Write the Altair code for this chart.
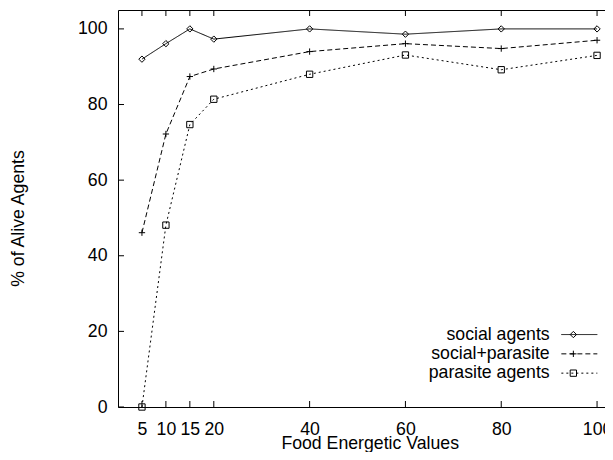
import altair as alt
import pandas as pd

x_vals = [5, 10, 15, 20, 40, 60, 80, 100]
social = [92.0, 96.1, 100.0, 97.3, 100.0, 98.6, 100.0, 100.0]
social_parasite = [46.1, 72.2, 87.4, 89.4, 94.0, 96.1, 94.8, 97.0]
parasite = [0.0, 48.1, 74.7, 81.4, 88.0, 93.1, 89.2, 93.0]
series_names = ["social agents", "social+parasite", "parasite agents"]
marker_names = ["diamond", "plus", "box"]
x_ticks = [5, 10, 15, 20, 40, 60, 80, 100]
y_ticks = [0, 20, 40, 60, 80, 100]

rows = []
for name, mk, vals in zip(series_names, marker_names, [social, social_parasite, parasite]):
    for xv, yv in zip(x_vals, vals):
        rows.append({"x": xv, "y": yv, "series": name, "marker": mk})
df = pd.DataFrame(rows)

W, H = 503, 397
FONT = "Liberation Sans"
FS = 17.7
TL = 6

xs = alt.Scale(domain=[0, 105], nice=False, zero=False)
ys = alt.Scale(domain=[0, 105], nice=False)

xaxis = alt.Axis(values=x_ticks, format="d", labelPadding=13, labelOverlap=False,
                 labelFlush=False, title="Food Energetic Values", titleX=251.7,
                 titleY=41.5, titleBaseline="alphabetic", titleAlign="center")
yaxis = alt.Axis(values=y_ticks, format="d", labelPadding=11, labelOverlap=False,
                 labelFlush=False, title="% of Alive Agents", titleX=-99.5, titleY=208,
                 titleAngle=270, titleBaseline="middle", titleAlign="center")

X = alt.X("x:Q", scale=xs, axis=xaxis)
Y = alt.Y("y:Q", scale=ys, axis=yaxis)

legA = alt.Legend(title=None, orient="none", legendX=452.5, legendY=315.7,
                  symbolType="M-5.69,0L5.69,0", symbolSize=40, symbolStrokeWidth=1,
                  symbolStrokeColor="black", symbolFillColor="transparent",
                  labelAlign="right", labelOffset={"expr": "-38.5"},
                  labelFont=FONT, labelFontSize=FS, labelColor="black", labelLimit=400,
                  rowPadding=0.3, padding=0)
legB = alt.Legend(title=None, orient="none", legendX=446.5, legendY=315.7,
                  symbolSize=40, symbolStrokeWidth=1, symbolStrokeColor="black",
                  symbolFillColor="white", labelOpacity=0, labelFont=FONT, labelFontSize=FS,
                  labelLimit=1, rowPadding=0.3, padding=0)

base = alt.Chart(df)
lines = base.mark_line(color="black", strokeWidth=1).encode(
    x=X, y=Y,
    strokeDash=alt.StrokeDash("series:N",
                              scale=alt.Scale(domain=series_names, range=[[1, 0], [5, 3], [2, 3]]),
                              legend=legA),
)
points = base.mark_point(filled=False, color="black", size=40, strokeWidth=1, opacity=1).encode(
    x=X, y=Y,
    shape=alt.Shape("marker:N",
                    scale=alt.Scale(domain=marker_names,
                                    range=["diamond", "M-1,0L1,0M0,-1L0,1", "square"]),
                    legend=legB),
)

ytk = alt.Chart(pd.DataFrame({"y": y_ticks})).mark_rule(color="black", strokeWidth=1).encode(
    y=Y, x=alt.value(0), x2=alt.value(TL))
xtb = alt.Chart(pd.DataFrame({"x": x_ticks})).mark_rule(color="black", strokeWidth=1).encode(
    x=X, y=alt.value(H), y2=alt.value(H - TL))
xtt = alt.Chart(pd.DataFrame({"x": x_ticks})).mark_rule(color="black", strokeWidth=1).encode(
    x=X, y=alt.value(0), y2=alt.value(TL))

chart = alt.layer(ytk, xtb, xtt, lines, points).properties(
    width=W, height=H,
    autosize=alt.AutoSizeParams(type="none"),
    padding={"left": 110, "top": 2, "right": -16, "bottom": 45},
    background="white",
).configure_view(stroke="black", strokeWidth=1).configure_axis(
    domain=False, ticks=False, grid=False,
    labelFont=FONT, labelFontSize=FS, labelColor="black",
    titleFont=FONT, titleFontSize=FS, titleColor="black", titleFontWeight="normal",
)

chart.save("out.html", embed_options={"renderer": "svg", "actions": False})
